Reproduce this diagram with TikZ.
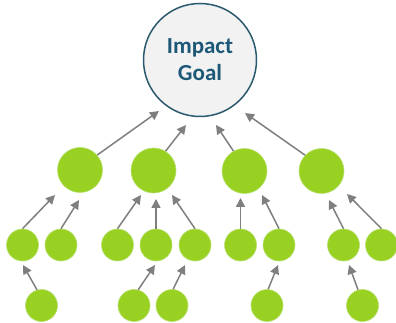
\documentclass[tikz,border=0pt]{standalone}
\usepackage{fontspec}
\setmainfont{Carlito}
\usetikzlibrary{arrows.meta}
\definecolor{goalfill}{HTML}{F2F2F2}
\definecolor{goalline}{HTML}{2B5A6E}
\definecolor{goaltext}{HTML}{1D5878}
\definecolor{leaf}{HTML}{99D122}
\definecolor{leafedge}{HTML}{B8E070}
\definecolor{arrowgray}{HTML}{7F7F7F}
\tikzset{
  goalnode/.style={circle, draw=goalline, line width=1.5pt, fill=goalfill, minimum size=113pt, inner sep=0pt,
    align=center, text=goaltext, font=\fontsize{23}{27}\selectfont\bfseries},
  bignode/.style={circle, fill=leaf, draw=leafedge, line width=0.6pt, minimum size=45pt, inner sep=0pt},
  smallnode/.style={circle, fill=leaf, draw=leafedge, line width=0.6pt, minimum size=32pt, inner sep=0pt},
  conn/.style={draw=arrowgray, line width=1.5pt, -{Triangle[length=9pt,width=9pt]}}
}
\begin{document}
\begin{tikzpicture}[x=1pt,y=-1pt]
\useasboundingbox (0,0) rectangle (396,323);
% goal
\node[goalnode] (goal) at (200,60) {Impact\\Goal};
% level 1
\node[bignode] (a1) at (80,170) {};
\node[bignode] (a2) at (153.5,170.5) {};
\node[bignode] (a3) at (244.5,171) {};
\node[bignode] (a4) at (321.5,171) {};
% level 2
\node[smallnode] (b1) at (22.5,245) {};
\node[smallnode] (b2) at (61,245) {};
\node[smallnode] (b3) at (117.5,245) {};
\node[smallnode] (b4) at (156,245) {};
\node[smallnode] (b5) at (195,245) {};
\node[smallnode] (b6) at (240.5,245) {};
\node[smallnode] (b7) at (279,245) {};
\node[smallnode] (b8) at (343.5,245) {};
\node[smallnode] (b9) at (381.5,245) {};
% level 3
\node[smallnode] (d1) at (41.5,305.5) {};
\node[smallnode] (d2) at (134,305.5) {};
\node[smallnode] (d3) at (172,305.5) {};
\node[smallnode] (d4) at (267,305.5) {};
\node[smallnode] (d5) at (362.5,305.5) {};
% arrow tips
\coordinate (ta1) at (159,111);
\coordinate (ta2) at (186,125);
\coordinate (ta3) at (216,125);
\coordinate (ta4) at (245,113);
\coordinate (tb1) at (55,195);
\coordinate (tb2) at (79,200);
\coordinate (tb3) at (141,195);
\coordinate (tb4) at (156,199);
\coordinate (tb5) at (172,195);
\coordinate (tb6) at (240.5,198);
\coordinate (tb7) at (262,195);
\coordinate (tb8) at (329,200);
\coordinate (tb9) at (347,194);
\coordinate (td1) at (23,265);
\coordinate (td2) at (155,265);
\coordinate (td3) at (185,265);
\coordinate (td4) at (278,265);
\coordinate (td5) at (349,265);
% connectors level 1 -> goal
\draw[conn] (a1.41) -- (ta1);
\draw[conn] (a2.58) -- (ta2);
\draw[conn] (a3.119) -- (ta3);
\draw[conn] (a4.136) -- (ta4);
% level 2 -> level 1
\draw[conn] (b1.north) -- (tb1);
\draw[conn] (b2.north) -- (tb2);
\draw[conn] (b3.north) -- (tb3);
\draw[conn] (b4.north) -- (tb4);
\draw[conn] (b5.north) -- (tb5);
\draw[conn] (b6.north) -- (tb6);
\draw[conn] (b7.north) -- (tb7);
\draw[conn] (b8.north) -- (tb8);
\draw[conn] (b9.north) -- (tb9);
% level 3 -> level 2
\draw[conn] (d1.106) -- (td1);
\draw[conn] (d2.75) -- (td2);
\draw[conn] (d3.86) -- (td3);
\draw[conn] (d4.86) -- (td4);
\draw[conn] (d5.106) -- (td5);
\end{tikzpicture}
\end{document}
